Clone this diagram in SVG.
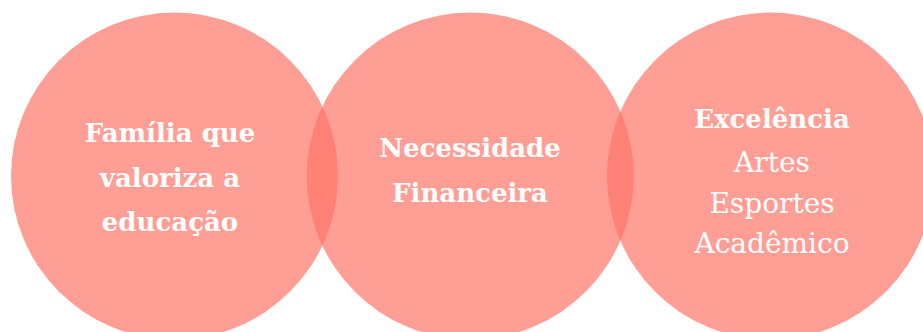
<svg xmlns="http://www.w3.org/2000/svg" width="923" height="332" viewBox="0 0 923 332">
<style>
.c{fill:#FF7266;fill-opacity:0.69}
.b{font-family:"DejaVu Serif","Liberation Serif",serif;font-weight:bold;font-size:26px;fill:#fff;text-anchor:middle}
.r{font-family:"DejaVu Serif","Liberation Serif",serif;font-size:28px;fill:#fff;text-anchor:middle}
</style>
<rect width="923" height="332" fill="#fff"/>
<g id="familia">
<circle class="c" cx="174.5" cy="176" r="163.5"/>
<text class="b" x="170" y="142">Família que</text>
<text class="b" x="170" y="187">valoriza a</text>
<text class="b" x="170" y="231">educação</text>
</g>
<g id="necessidade">
<circle class="c" cx="470.3" cy="176" r="163.5"/>
<text class="b" x="470" y="157">Necessidade</text>
<text class="b" x="470" y="202">Financeira</text>
</g>
<g id="excelencia">
<circle class="c" cx="770.5" cy="176" r="163.5"/>
<text class="b" x="772" y="128">Excelência</text>
<text class="r" x="772" y="172">Artes</text>
<text class="r" x="772" y="213">Esportes</text>
<text class="r" x="772" y="253">Acadêmico</text>
</g>
</svg>
